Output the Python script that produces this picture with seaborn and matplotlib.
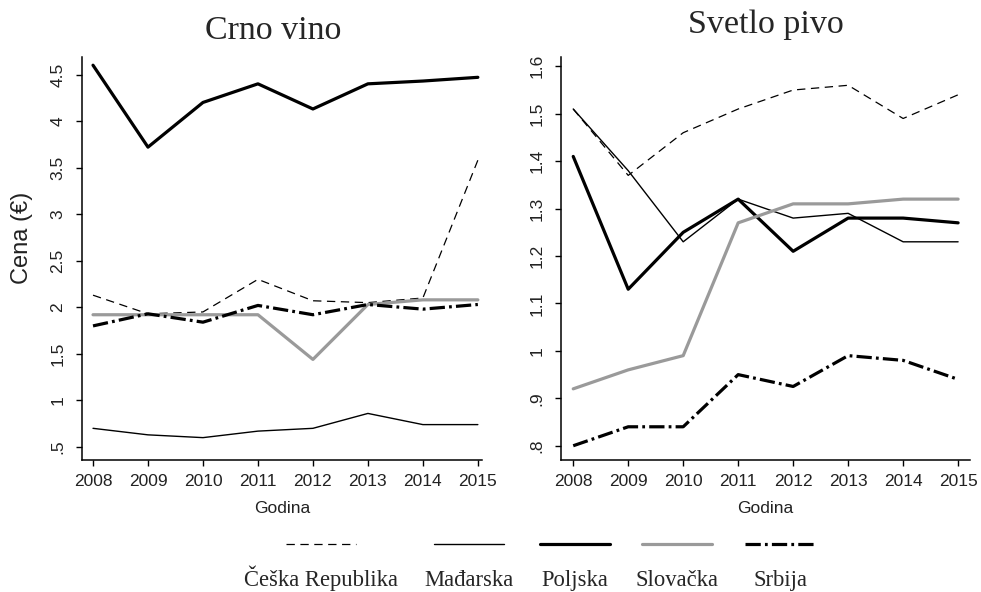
import numpy as np
import pandas as pd
import seaborn as sns
import matplotlib
matplotlib.use('Agg')
import matplotlib.pyplot as plt
from matplotlib.ticker import FuncFormatter
from matplotlib.offsetbox import VPacker
from matplotlib.transforms import Bbox

# data
years = [2008, 2009, 2010, 2011, 2012, 2013, 2014, 2015]
countries = ['Češka Republika', 'Mađarska', 'Poljska', 'Slovačka', 'Srbija']

wine_cz = [2.13, 1.93, 1.95, 2.30, 2.07, 2.05, 2.10, 3.58]
wine_hu = [0.70, 0.63, 0.60, 0.67, 0.70, 0.86, 0.74, 0.74]
wine_pl = [4.60, 3.72, 4.20, 4.40, 4.13, 4.40, 4.43, 4.47]
wine_sk = [1.92, 1.92, 1.92, 1.92, 1.44, 2.03, 2.08, 2.08]
wine_rs = [1.80, 1.93, 1.84, 2.02, 1.92, 2.03, 1.98, 2.03]

beer_cz = [1.51, 1.37, 1.46, 1.51, 1.55, 1.56, 1.49, 1.54]
beer_hu = [1.51, 1.38, 1.23, 1.32, 1.28, 1.29, 1.23, 1.23]
beer_pl = [1.41, 1.13, 1.25, 1.32, 1.21, 1.28, 1.28, 1.27]
beer_sk = [0.92, 0.96, 0.99, 1.27, 1.31, 1.31, 1.32, 1.32]
beer_rs = [0.80, 0.84, 0.84, 0.95, 0.925, 0.99, 0.98, 0.94]

wine_yticks = [0.5, 1, 1.5, 2, 2.5, 3, 3.5, 4, 4.5]
beer_yticks = [0.8, 0.9, 1.0, 1.1, 1.2, 1.3, 1.4, 1.5, 1.6]

def to_long(series):
    rows = []
    for name, vals in zip(countries, series):
        for yr, v in zip(years, vals):
            rows.append({'Godina': yr, 'Cena': v, 'Zemlja': name})
    return pd.DataFrame(rows)

df_wine = to_long([wine_cz, wine_hu, wine_pl, wine_sk, wine_rs])
df_beer = to_long([beer_cz, beer_hu, beer_pl, beer_sk, beer_rs])

sns.set_style('ticks')
plt.rcParams['font.family'] = ['Liberation Sans', 'DejaVu Sans']
plt.rcParams['lines.scale_dashes'] = False

palette = {'Češka Republika': 'black', 'Mađarska': 'black', 'Poljska': 'black',
           'Slovačka': '#9a9a9a', 'Srbija': 'black'}
dashes = {'Češka Republika': (6, 4), 'Mađarska': '', 'Poljska': '',
          'Slovačka': '', 'Srbija': (11, 3, 2, 3)}
sizes = {'Češka Republika': 0.9, 'Mađarska': 1.0, 'Poljska': 2.3,
         'Slovačka': 2.3, 'Srbija': 2.3}

fig = plt.figure(figsize=(9.81, 5.92), dpi=100)
ax1 = fig.add_axes([0.0836, 0.223, 0.408, 0.681])
ax2 = fig.add_axes([0.572, 0.223, 0.417, 0.681])

def fmt(v, pos):
    s = ('%.1f' % v).rstrip('0').rstrip('.')
    if s.startswith('0.'):
        s = s[1:]
    return s

for ax, df, title, yt, xl, yl, tpad in [
        (ax1, df_wine, 'Crno vino', wine_yticks, (2007.8, 2015.08), (0.36, 4.69), 13),
        (ax2, df_beer, 'Svetlo pivo', beer_yticks, (2007.78, 2015.22), (0.77, 1.62), 17)]:
    sns.lineplot(data=df, x='Godina', y='Cena', hue='Zemlja', style='Zemlja', size='Zemlja',
                 hue_order=countries, style_order=countries, size_order=countries,
                 palette=palette, dashes=dashes, sizes=sizes, ax=ax, legend=False)
    ax.set_xlim(*xl)
    ax.set_ylim(*yl)
    ax.set_xticks(years)
    ax.set_yticks(yt)
    ax.yaxis.set_major_formatter(FuncFormatter(fmt))
    ax.tick_params(axis='both', labelsize=12.5, length=4, width=1, color='black', labelcolor='#222222')
    ax.tick_params(axis='x', pad=6)
    ax.tick_params(axis='y', pad=8)
    for lab in ax.get_yticklabels():
        lab.set_rotation(90)
        lab.set_va('center')
    sns.despine(ax=ax)
    for sp in ['left', 'bottom']:
        ax.spines[sp].set_linewidth(1.1)
        ax.spines[sp].set_color('black')
    ax.set_xlabel('Godina', fontsize=12.5, color='#222222', labelpad=9)
    ax.set_ylabel('')
    ax.set_title(title, fontsize=24.5, family='Liberation Serif', pad=tpad)

ax1.title.set_x(0.478)
ax1.set_ylabel('Cena (€)', fontsize=17, color='#222222')
ax1.yaxis.set_label_coords(-0.122, 0.55)

# legend: line on top, country name below it
leg = fig.legend(ax1.get_lines()[:5], countries, loc='center', bbox_to_anchor=(0.54, 0.048),
                 ncol=5, frameon=False, handlelength=3.1, columnspacing=1.15,
                 prop={'family': 'Liberation Serif', 'size': 16.3})

def same_height(ta):
    orig = ta.get_bbox
    def get_bbox(renderer):
        bb = orig(renderer)
        _, h, d = renderer.get_text_width_height_descent('lp', ta._text._fontproperties, ismath=False)
        return Bbox.from_extents(bb.x0, bb.y0, bb.x1, h - d)
    ta.get_bbox = get_bbox

for col in leg._legend_handle_box.get_children():
    new = []
    for item in col.get_children():
        h, t = item.get_children()
        same_height(t)
        new.append(VPacker(children=[h, t], align='center', pad=0, sep=13))
    col._children = new

fig.savefig('out.png', dpi=100, facecolor='white')
